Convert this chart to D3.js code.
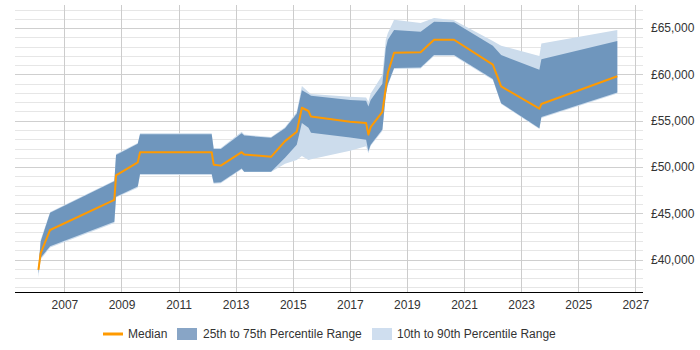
<!DOCTYPE html>
<html>
<head>
<meta charset="utf-8">
<script src="https://cdn.jsdelivr.net/npm/d3@7"></script>
<style>
  html, body { margin: 0; padding: 0; background: #fff; }
  svg { display: block; font-family: "Liberation Sans", Arial, sans-serif; }
</style>
</head>
<body>
<svg id="chart" width="700" height="350"></svg>
<script>
// ---- data ----
const years = [2006.09, 2006.17, 2006.50, 2008.75, 2008.81, 2009.57, 2009.65, 2012.16, 2012.23, 2012.48,
  2013.21, 2013.30, 2014.24, 2014.73, 2015.14, 2015.32, 2015.55, 2015.64, 2017.01, 2017.57,
  2017.65, 2017.73, 2018.14, 2018.26, 2018.33, 2018.55, 2019.48, 2019.95, 2020.65, 2022.01,
  2022.30, 2023.64, 2023.71, 2026.37];
const median = [38900, 40700, 43200, 46450, 49100, 50500, 51600, 51600, 50250, 50150,
  51600, 51350, 51100, 52800, 53800, 56400, 56050, 55450, 54900, 54750,
  53500, 54300, 55950, 58550, 60150, 62350, 62400, 63750, 63750, 61050,
  58700, 56300, 56800, 59800];
const p25 = [38500, 40200, 41450, 44100, 46800, 47900, 49250, 49250, 48300, 48350,
  49850, 49500, 49500, 51000, 52400, 54750, 54250, 53700, 53200, 52950,
  51700, 52400, 54050, 57800, 58900, 60700, 60750, 62100, 62100, 59500,
  56900, 54200, 55400, 58050];
const p75 = [39150, 41950, 45050, 48450, 51300, 52500, 53550, 53550, 51950, 51950,
  53650, 53400, 53150, 54200, 55750, 58300, 57900, 57700, 57250, 57150,
  56550, 57250, 59000, 62850, 63750, 64800, 64600, 65700, 65650, 63100,
  62100, 60500, 61650, 63600];
const p10 = [38100, 40000, 41300, 43950, 46700, 47750, 49150, 49150, 48200, 48250,
  49750, 49450, 49450, 50350, 50750, 51200, 50750, 50850, 51750, 52250,
  51500, 52300, 53900, 57700, 58800, 60600, 60650, 62000, 62000, 59400,
  56800, 54100, 55300, 57950];
const p90 = [39250, 42150, 45150, 48550, 51400, 52600, 53650, 53650, 52050, 52050,
  53800, 53500, 53250, 54300, 55950, 58750, 58100, 57900, 57600, 57500,
  57050, 57950, 59950, 63750, 64450, 65900, 65550, 66100, 65850, 63600,
  63100, 62000, 63350, 64800];
const xTickYears = [2007, 2009, 2011, 2013, 2015, 2017, 2019, 2021, 2023, 2025, 2027];
const yTickValues = [40000, 45000, 50000, 55000, 60000, 65000];
const yMinorValues = d3.range(37000, 67001, 1000);
const legendLabels = ["Median", "25th to 75th Percentile Range", "10th to 90th Percentile Range"];

// ---- chart ----
(function () {
const svg = d3.select("#chart");
const pLeft = 15, pRight = 643, pTop = 5, pBottom = 292;
const x = d3.scaleLinear().domain([2005.27, 2027.27]).range([pLeft, pRight]);
const y = d3.scaleLinear().domain([36500, 67500]).range([pBottom, pTop]);

const grid = svg.append("g");
grid.selectAll("line.minor").data(yMinorValues.filter(v => v % 5000 !== 0)).join("line")
  .attr("x1", pLeft).attr("x2", pRight)
  .attr("y1", d => Math.round(y(d)) + 0.5).attr("y2", d => Math.round(y(d)) + 0.5)
  .attr("stroke", "#e6e6e6").attr("stroke-width", 1);
grid.selectAll("line.major").data(yMinorValues.filter(v => v % 5000 === 0)).join("line")
  .attr("x1", pLeft).attr("x2", pRight)
  .attr("y1", d => Math.round(y(d)) + 0.5).attr("y2", d => Math.round(y(d)) + 0.5)
  .attr("stroke", "#cfcfcf").attr("stroke-width", 1);
grid.selectAll("line.vert").data(xTickYears).join("line")
  .attr("x1", d => Math.round(x(d)) + 0.5).attr("x2", d => Math.round(x(d)) + 0.5)
  .attr("y1", pTop).attr("y2", pBottom)
  .attr("stroke", "#cccccc").attr("stroke-width", 1);

const idx = d3.range(years.length);
const outer = d3.area().x(i => x(years[i])).y0(i => y(p10[i])).y1(i => y(p90[i]));
const inner = d3.area().x(i => x(years[i])).y0(i => y(p25[i])).y1(i => y(p75[i]));
const line = d3.line().x(i => x(years[i])).y(i => y(median[i]));

svg.append("path").attr("d", outer(idx)).attr("fill", "#ccdcec");
svg.append("path").attr("d", inner(idx)).attr("fill", "#6f96bd");
svg.append("path").attr("d", line(idx)).attr("fill", "none")
  .attr("stroke", "#ff9a00").attr("stroke-width", 2).attr("stroke-linejoin", "round");

// x axis
const xAxis = d3.axisBottom(x).tickValues(xTickYears).tickFormat(d3.format("d")).tickSize(0).tickPadding(8);
const gx = svg.append("g").attr("transform", `translate(0,${pBottom + 0.5})`).call(xAxis);
gx.select(".domain").attr("stroke", "#000").attr("d", `M${pLeft},0H${pRight}`);
gx.selectAll("text").attr("font-size", 12).attr("fill", "#333")
  .attr("font-family", "'Liberation Sans', Arial, sans-serif");

// y axis (right)
const yAxis = d3.axisRight(y).tickValues(yTickValues).tickFormat(d => "£" + d3.format(",")(d)).tickSize(0).tickPadding(8);
const gy = svg.append("g").attr("transform", `translate(${pRight},0)`).call(yAxis);
gy.select(".domain").remove();
gy.selectAll("text").attr("font-size", 12).attr("fill", "#333")
  .attr("font-family", "'Liberation Sans', Arial, sans-serif");

// legend
const lg = svg.append("g").attr("font-size", 12).attr("fill", "#333");
const ly = 334;
lg.append("line").attr("x1", 103).attr("x2", 123).attr("y1", ly).attr("y2", ly)
  .attr("stroke", "#ff9a00").attr("stroke-width", 3);
lg.append("text").attr("x", 128).attr("y", ly).attr("dy", "0.35em").text(legendLabels[0]);
lg.append("rect").attr("x", 177).attr("y", ly - 6).attr("width", 20).attr("height", 12).attr("fill", "#88a5c6");
lg.append("text").attr("x", 203).attr("y", ly).attr("dy", "0.35em").text(legendLabels[1]);
lg.append("rect").attr("x", 372).attr("y", ly - 6).attr("width", 20).attr("height", 12).attr("fill", "#cfdeef");
lg.append("text").attr("x", 397).attr("y", ly).attr("dy", "0.35em").text(legendLabels[2]);
})();
</script>
</body>
</html>
